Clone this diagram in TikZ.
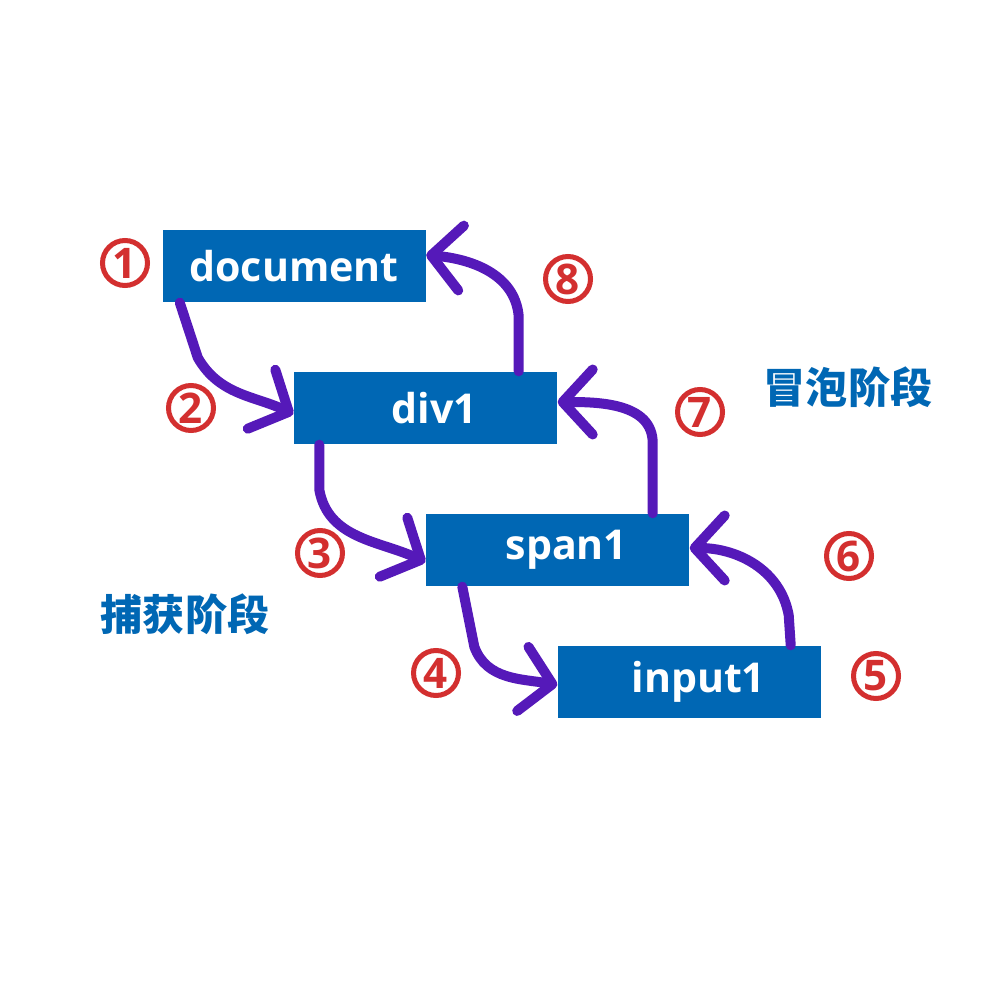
\documentclass[tikz,border=0pt]{standalone}
\usepackage{fontspec}
\setmainfont{Open Sans}
\newfontfamily\cjk{Noto Sans CJK SC}
\usetikzlibrary{arrows.meta}
\definecolor{boxblue}{RGB}{0,103,180}
\definecolor{pen}{RGB}{85,25,185}
\definecolor{numred}{RGB}{211,47,47}

\begin{document}
\begin{tikzpicture}[
  box/.style={fill=boxblue, minimum width=2.63cm, minimum height=0.72cm, inner sep=0pt, text=white, font=\fontsize{11.7}{14}\selectfont\bfseries},
  num/.style={circle, draw=numred, line width=0.05cm, minimum size=0.45cm, inner sep=0pt, text=numred, font=\fontsize{12}{12}\selectfont\bfseries},
  phase/.style={text=boxblue, font=\fontsize{12}{14}\selectfont\cjk\bfseries},
  stroke/.style={draw=pen, line width=0.1cm, line cap=round, line join=round, -{Straight Barb[length=3mm, width=6.5mm, round]}}
]
  \fill[white] (0,0) rectangle (10,-10);
  % 元素
  \node[box] (doc) at (2.94,-2.66) {document};
  \node[box] (div1) at (4.255,-4.08) {\hspace*{1.8mm}div1};
  \node[box] (span1) at (5.575,-5.50) {\hspace*{1.8mm}span1};
  \node[box] (input1) at (6.895,-6.82) {\hspace*{1.8mm}input1};
  % 捕获
  \draw[stroke] ([xshift=0.18cm]doc.south west) -- ++(0.18,-0.55) to[out=-60, in=155] ([yshift=-0.06cm]div1.west);
  \draw[stroke] ([xshift=0.26cm]div1.south west) -- ++(0,-0.45) to[out=-80, in=155] ([yshift=-0.12cm]span1.west);
  \draw[stroke] ([xshift=0.37cm]span1.south west) -- ++(0.12,-0.6) to[out=-70, in=170] ([yshift=-0.03cm]input1.west);
  % 冒泡
  \draw[stroke] ([xshift=-0.31cm]input1.north east) -- ++(-0.02,0.3) to[out=100, in=0] ([yshift=0.02cm]span1.east);
  \draw[stroke] ([xshift=-0.37cm]span1.north east) -- ++(0,0.7) to[out=90, in=0] ([yshift=0.06cm]div1.east);
  \draw[stroke] ([xshift=-0.39cm]div1.north east) -- ++(0,0.55) to[out=95, in=-5] ([yshift=0.11cm]doc.east);
  % 序号
  \node[num] (n1) at (1.25,-2.63) {1};
  \node[num] (n2) at (1.91,-4.08) {2};
  \node[num] (n3) at (3.20,-5.53) {3};
  \node[num] (n4) at (4.36,-6.73) {4};
  \node[num] (n5) at (8.76,-6.76) {5};
  \node[num] (n6) at (8.49,-5.56) {6};
  \node[num] (n7) at (7.00,-4.12) {7};
  \node[num] (n8) at (5.68,-2.79) {8};
  % 阶段
  \node[phase] (bubble) at (8.48,-3.87) {冒泡阶段};
  \node[phase] (capture) at (1.85,-6.14) {捕获阶段};
\end{tikzpicture}
\end{document}
